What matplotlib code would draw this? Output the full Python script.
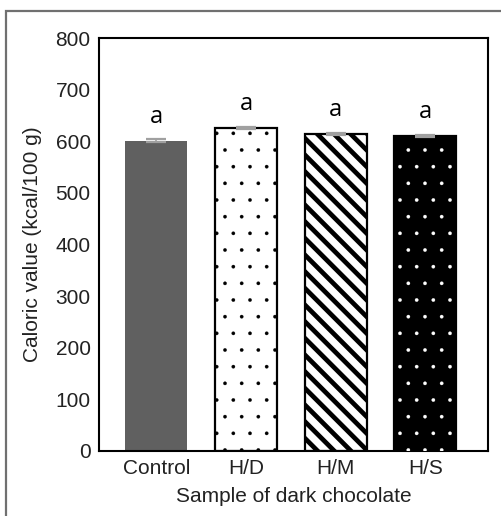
import matplotlib
matplotlib.use("Agg")
import matplotlib.pyplot as plt
from matplotlib.patches import Rectangle

# caloric value of the dark chocolate samples
samples = ["Control", "H/D", "H/M", "H/S"]
caloric = [601, 625, 614, 610]
errors = [2.5, 2.0, 2.0, 2.5]
letters = ["a", "a", "a", "a"]

plt.rcParams["font.family"] = ["Liberation Sans", "DejaVu Sans"]

fig = plt.figure(figsize=(5.02, 5.16), dpi=100)
fig.patch.set_facecolor("white")

# outer frame around the figure
fig.add_artist(Rectangle((6 / 502, -0.05), 1.2, 1 - 11 / 516 + 0.05,
                         transform=fig.transFigure, fill=False,
                         edgecolor="#707070", linewidth=1.6))

ax = fig.add_axes([99 / 502, 1 - 451 / 516, 389 / 502, 413 / 516])
x = list(range(len(samples)))
w = 0.69

# Control: plain dark grey
ax.bar(x[0], caloric[0], width=w, color="#606060", linewidth=0, zorder=2)

# H/D: white with black dots
with plt.rc_context({"hatch.linewidth": 0.2, "hatch.color": "black"}):
    ax.bar(x[1], caloric[1], width=w, facecolor="white", edgecolor="black",
           hatch=".", linewidth=1.6, zorder=2)

# H/M: thick diagonal stripes
with plt.rc_context({"hatch.linewidth": 3.4, "hatch.color": "black"}):
    ax.bar(x[2], caloric[2], width=w, facecolor="white", edgecolor="black",
           hatch="\\\\", linewidth=1.6, zorder=2)

# H/S: black with white dots
ax.bar(x[3], caloric[3], width=w, facecolor="black", edgecolor="black",
       linewidth=1.6, zorder=2)
with plt.rc_context({"hatch.linewidth": 0.2}):
    ax.bar(x[3], caloric[3], width=w * 0.97, facecolor="none", edgecolor="white",
           hatch=".", linewidth=0, zorder=3)

ax.errorbar(x, caloric, yerr=errors, fmt="none", ecolor="#a0a0a0",
            elinewidth=1.2, capsize=7, capthick=1.6, zorder=4)

for xi, v, e, s in zip(x, caloric, errors, letters):
    ax.text(xi, v + 35, s, ha="center", va="baseline", fontsize=17,
            family=["Open Sans", "DejaVu Sans"], color="black")

ax.set_xlim(-0.64, 3.7)
ax.set_ylim(0, 800)
ax.set_yticks(range(0, 801, 100))
ax.set_xticks(x)
ax.set_xticklabels(samples)
ax.tick_params(axis="both", length=0, labelsize=15, colors="#222222", pad=6)
ax.set_ylabel("Caloric value (kcal/100 g)", fontsize=15, color="#222222", labelpad=10)
ax.set_xlabel("Sample of dark chocolate", fontsize=15, color="#222222", labelpad=6)
for sp in ax.spines.values():
    sp.set_linewidth(1.5)
    sp.set_color("black")

fig.savefig("out.png", dpi=100, facecolor="white")
